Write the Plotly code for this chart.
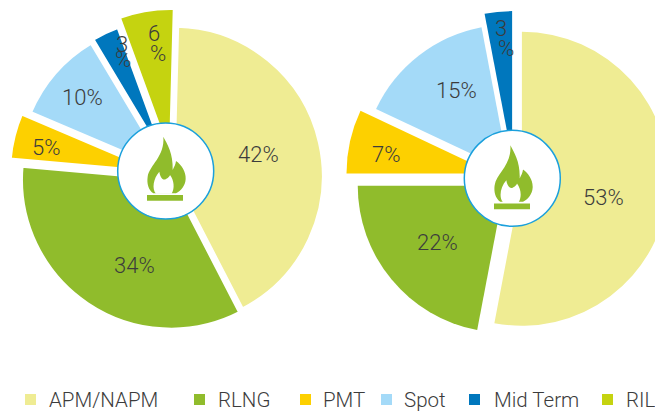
import plotly.graph_objects as go

categories = ["APM/NAPM", "RLNG", "PMT", "Spot", "Mid Term", "RIL"]
colors = ["#EFEC93", "#90BC2C", "#FDD000", "#A4DAF8", "#0077BD", "#C5D310"]
left_values = [42, 34, 5, 10, 3, 6]
right_values = [53, 22, 7, 15, 3, 0]

W, H = 690, 413
INK = "#3c3c3c"
FONT = "Roboto"


def px(x):
    return x / W


def py(y):
    return 1 - y / H


def dom(cx, cy, half):
    return dict(x=[px(cx - half), px(cx + half)], y=[py(cy + half), py(cy - half)])


fig = go.Figure()
fig.add_trace(go.Pie(
    labels=categories, values=left_values, sort=False, direction="clockwise",
    rotation=1.5, pull=[0, 0.027, 0.097, 0.047, 0.06, 0.12],
    marker=dict(colors=colors, line=dict(color="white", width=3.5)),
    textinfo="none", hoverinfo="label+percent", showlegend=False,
    domain=dom(173.5, 176, 168),
))
fig.add_trace(go.Pie(
    labels=categories[:5], values=right_values[:5], sort=False, direction="clockwise",
    rotation=0, pull=[0.054, 0.082, 0.143, 0.055, 0.136],
    marker=dict(colors=colors[:5], line=dict(color="white", width=0)),
    textinfo="none", hoverinfo="label+percent", showlegend=False,
    domain=dom(514, 178, 168),
))

shapes = []
annotations = []


def label(text, x, y, size=22):
    annotations.append(dict(text=text, x=px(x), y=py(y), xref="paper", yref="paper",
                            showarrow=False, xanchor="center", yanchor="middle",
                            font=dict(family=FONT, size=size, color=INK, weight=300)))


left_pos = [(258, 155), (134, 265), (46, 148), (82, 97)]
for v, (x, y) in zip(left_values[:4], left_pos):
    label(f"{v}%", x, y)
label(str(left_values[4]), 122, 44)
label("%", 122.5, 60)
label(str(left_values[5]), 154, 34)
label("%", 158, 53)

right_pos = [(603, 197), (437, 242), (386, 154), (456, 91)]
for v, (x, y) in zip(right_values[:4], right_pos):
    label(f"{v}%", x, y)
label(str(right_values[4]), 501, 28)
label("%", 505.5, 48)

# Centre badge with flame icon (coordinates in icon space, 3x)
OUTER = [("M", 160, 65), ("C", 172, 88, 190, 115, 188, 165), ("C", 193, 155, 197, 147, 198, 138),
         ("C", 215, 150, 228, 170, 227, 192), ("C", 226, 212, 213, 228, 198, 235), ("L", 130, 235),
         ("C", 115, 225, 110, 205, 113, 185), ("C", 118, 150, 165, 125, 160, 65)]
INNER = [("M", 148, 170), ("C", 150, 185, 158, 198, 168, 192), ("C", 176, 188, 180, 183, 180, 180),
         ("C", 192, 195, 195, 220, 185, 236), ("L", 138, 236), ("C", 125, 222, 130, 190, 148, 170)]


def path(cmds, dx, dy):
    out = []
    for c in cmds:
        pts = c[1:]
        coords = []
        for i in range(0, len(pts), 2):
            x = 110 + pts[i] / 3 + dx
            y = 115 + pts[i + 1] / 3 + dy
            coords.append(f"{px(x):.5f},{py(y):.5f}")
        out.append(c[0] + " ".join(coords))
    return " ".join(out) + " Z"


for cx, cy, dx, dy in [(165.7, 171, 0, 0), (512.3, 178.3, 347, 8.5)]:
    r = 48
    shapes.append(dict(type="circle", xref="paper", yref="paper", x0=px(cx - r), x1=px(cx + r),
                       y0=py(cy + r), y1=py(cy - r), fillcolor="white",
                       line=dict(color="#1BA0DC", width=1.5), layer="above"))
    shapes.append(dict(type="path", xref="paper", yref="paper", path=path(OUTER, dx, dy),
                       fillcolor="#90BC2C", line=dict(width=0), layer="above"))
    shapes.append(dict(type="path", xref="paper", yref="paper", path=path(INNER, dx, dy),
                       fillcolor="white", line=dict(width=0), layer="above"))
    shapes.append(dict(type="rect", xref="paper", yref="paper", x0=px(147 + dx), x1=px(183 + dx),
                       y0=py(200.7 + dy), y1=py(195 + dy), fillcolor="#90BC2C",
                       line=dict(width=0), layer="above"))

# Legend row
swatch_x = [25, 194, 300, 381, 469, 602]
text_x = [47, 216, 321, 402, 492, 624]
for name, col, sx, tx in zip(categories, colors, swatch_x, text_x):
    shapes.append(dict(type="rect", xref="paper", yref="paper", x0=px(sx), x1=px(sx + 11),
                       y0=py(405), y1=py(394), fillcolor=col, line=dict(width=0)))
    annotations.append(dict(text=name, x=px(tx), y=py(400), xref="paper", yref="paper",
                            showarrow=False, xanchor="left", yanchor="middle",
                            font=dict(family=FONT, size=20.5, color=INK, weight=300)))

fig.update_layout(width=W, height=H, margin=dict(l=0, r=0, t=0, b=0),
                  paper_bgcolor="white", shapes=shapes, annotations=annotations,
                  showlegend=False)
fig.write_html("out.html", config=dict(displayModeBar=False),
               post_script="document.documentElement.style.overflow='hidden';document.body.style.margin='0';document.body.style.overflow='hidden';")
